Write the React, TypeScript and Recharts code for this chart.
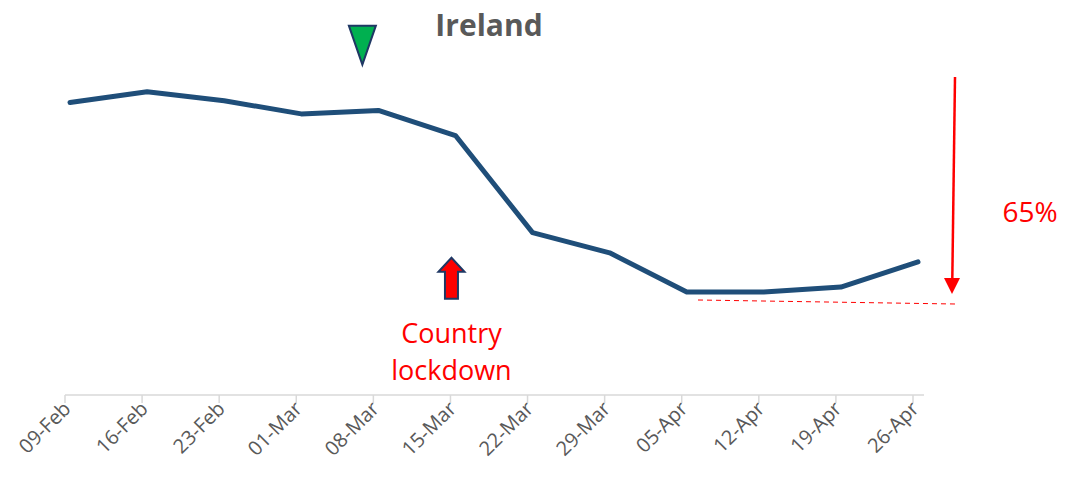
import { LineChart, Line, XAxis, YAxis, ReferenceDot } from 'recharts';

const weeks = ['09-Feb', '16-Feb', '23-Feb', '01-Mar', '08-Mar', '15-Mar', '22-Mar', '29-Mar', '05-Apr', '12-Apr', '19-Apr', '26-Apr'];
const mobility = [100, 103.7, 100.6, 96.1, 97.3, 88.7, 55.5, 48.6, 35.2, 35.2, 36.9, 45.5];

const data = weeks.map((week, i) => ({ week, value: mobility[i] }));

const FONT = '"Open Sans", sans-serif';
const GREY = '#595959';
const NAVY = '#1f3864';

const WeekTick = ({ x, y, payload }: any) => {
  const tx = x - 5;
  return (
    <g>
      <line x1={tx} y1={y} x2={tx} y2={y + 8} stroke="#d9d9d9" strokeWidth={1.5} />
      <text
        x={0}
        y={0}
        transform={`translate(${tx + 7},${y + 15}) rotate(-45)`}
        textAnchor="end"
        fill={GREY}
        fontSize={20}
        fontFamily={FONT}
      >
        {payload.value}
      </text>
    </g>
  );
};

const PeakMarker = ({ cx, cy }: any) => {
  const x = cx - 16;
  return (
    <polygon
      points={`${x - 13.5},${cy - 19.5} ${x + 13.5},${cy - 19.5} ${x},${cy + 19.5}`}
      fill="#00b050"
      stroke={NAVY}
      strokeWidth={2}
      strokeLinejoin="miter"
    />
  );
};

const LockdownMarker = ({ cx, cy }: any) => {
  const x = cx - 4;
  const top = cy - 20.5;
  const neck = top + 14;
  const bottom = cy + 20.5;
  return (
    <g>
      <polygon
        points={`${x},${top} ${x + 13},${neck} ${x + 6.5},${neck} ${x + 6.5},${bottom} ${x - 6.5},${bottom} ${x - 6.5},${neck} ${x - 13},${neck}`}
        fill="#ff0000"
        stroke={NAVY}
        strokeWidth={2}
      />
      <text x={x} y={cy + 64.5} textAnchor="middle" fill="#ff0000" fontSize={27} fontFamily={FONT}>
        Country
      </text>
      <text x={x} y={cy + 101.5} textAnchor="middle" fill="#ff0000" fontSize={27} fontFamily={FONT}>
        lockdown
      </text>
    </g>
  );
};

export default function App() {
  return (
    <div style={{ position: 'absolute', left: 0, top: 0, width: 1076, height: 483, background: '#fff' }}>
      <LineChart width={1076} height={483} data={data} margin={{ top: 44, right: 152, left: 65, bottom: 0 }}>
        <XAxis
          dataKey="week"
          height={88}
          padding={{ left: 5, right: 6 }}
          axisLine={{ stroke: '#d9d9d9', strokeWidth: 1.5 }}
          tickLine={false}
          tickSize={0}
          tickMargin={0}
          interval={0}
          tick={<WeekTick />}
        />
        <YAxis hide domain={[0, 120]} />
        <ReferenceDot x="08-Mar" y={119.6} ifOverflow="visible" shape={<PeakMarker />} />
        <ReferenceDot x="15-Mar" y={39.9} ifOverflow="visible" shape={<LockdownMarker />} />
        <Line
          dataKey="value"
          stroke="#1f4e79"
          strokeWidth={5}
          strokeLinecap="round"
          strokeLinejoin="round"
          dot={false}
          activeDot={false}
          isAnimationActive={false}
        />
      </LineChart>
      <svg width={1076} height={483} style={{ position: 'absolute', left: 0, top: 0, pointerEvents: 'none' }}>
        <text x={489} y={36} textAnchor="middle" fill={GREY} fontSize={30} fontWeight="bold" fontFamily={FONT}>
          Ireland
        </text>
        <line x1={698} y1={300} x2={955} y2={304} stroke="#ff0000" strokeWidth={1} strokeDasharray="5 4" />
        <line x1={955} y1={77} x2={952.3} y2={280} stroke="#ff0000" strokeWidth={2.5} />
        <polygon points="944,278 960,278 952,294" fill="#ff0000" />
        <text x={1030} y={222} textAnchor="middle" fill="#ff0000" fontSize={28} fontFamily={FONT}>
          65%
        </text>
      </svg>
    </div>
  );
}
